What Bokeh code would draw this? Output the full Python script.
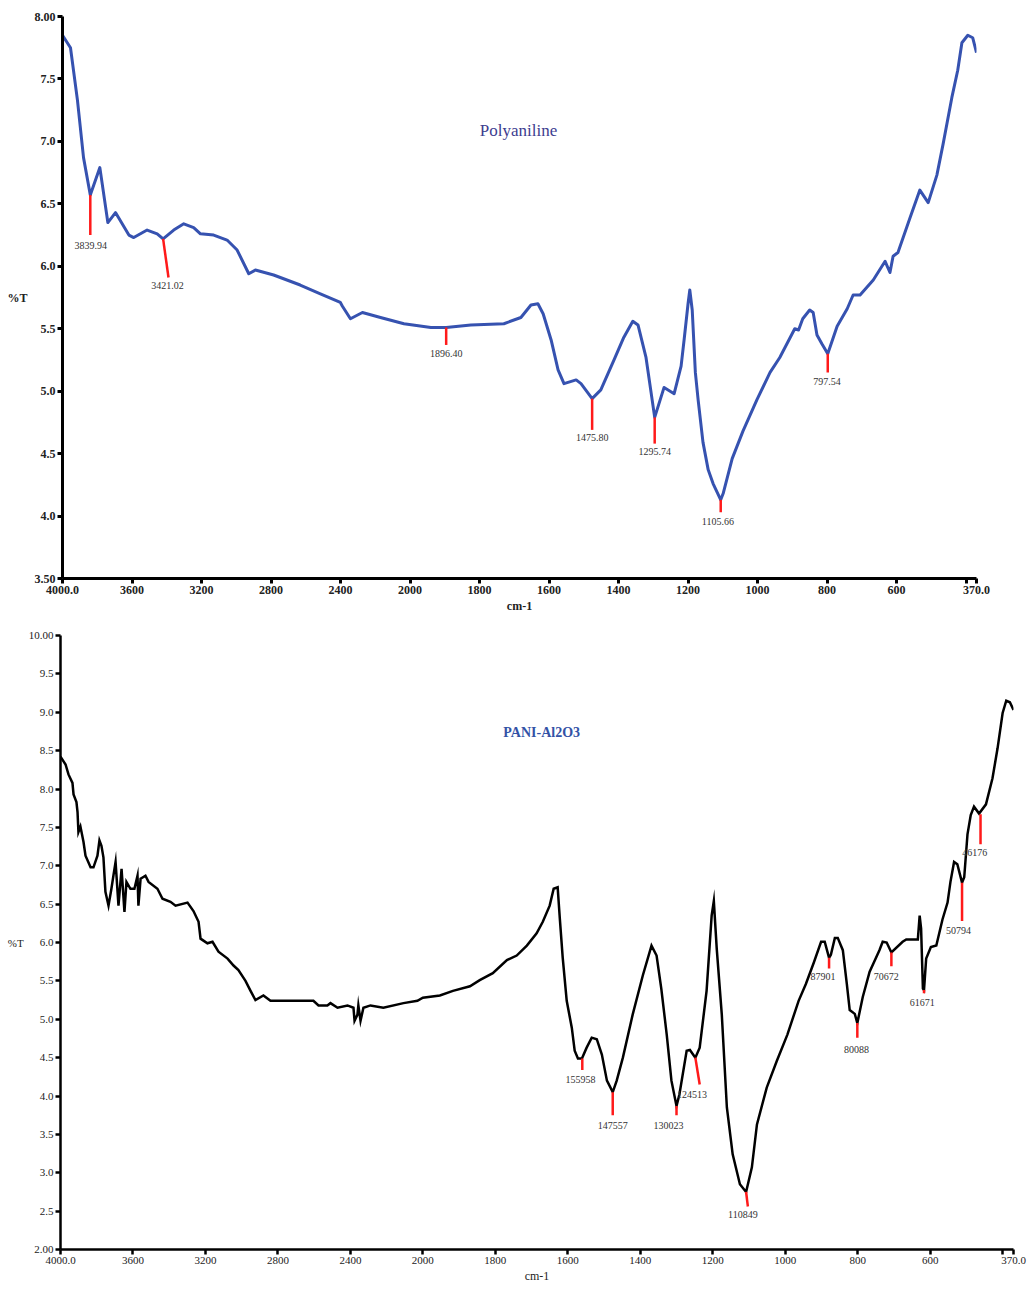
import numpy as np
from bokeh.plotting import figure
from bokeh.models import Range1d, FixedTicker
from bokeh.core.properties import value
from bokeh.embed import file_html
from bokeh.resources import INLINE

# ---------------- data: Polyaniline (top) ----------------
pani_wn = [4000, 3954, 3914, 3879, 3840, 3785, 3739, 3695, 3618, 3590, 3513, 3455, 3421,
           3360, 3302, 3245, 3206, 3130, 3053, 2995, 2928, 2890, 2785, 2632, 2516, 2401,
           2389, 2343, 2274, 2170, 2035, 1940, 1896, 1825, 1730, 1681, 1652, 1632, 1617,
           1594, 1574, 1557, 1522, 1508, 1476, 1451, 1413, 1385, 1359, 1344, 1321, 1296,
           1269, 1240, 1220, 1211, 1200, 1195, 1188, 1179, 1171, 1157, 1142, 1128, 1106,
           1099, 1073, 1042, 1002, 964, 936, 893, 882, 870, 850, 840, 829, 815, 798, 771,
           742, 725, 705, 667, 633, 619, 610, 596, 561, 533, 509, 484, 466, 441, 424, 412,
           395, 381, 370]
pani_t = [7.85, 7.75, 7.33, 6.87, 6.57, 6.79, 6.35, 6.43, 6.25, 6.23, 6.29, 6.26, 6.22,
          6.29, 6.34, 6.31, 6.26, 6.25, 6.21, 6.13, 5.94, 5.97, 5.93, 5.85, 5.78, 5.71,
          5.68, 5.58, 5.63, 5.59, 5.54, 5.51, 5.51, 5.53, 5.54, 5.59, 5.69, 5.70, 5.62,
          5.41, 5.17, 5.06, 5.09, 5.06, 4.94, 5.01, 5.25, 5.43, 5.56, 5.53, 5.27, 4.79,
          5.03, 4.98, 5.20, 5.42, 5.70, 5.81, 5.65, 5.15, 4.93, 4.59, 4.37, 4.26, 4.13,
          4.18, 4.46, 4.68, 4.93, 5.15, 5.27, 5.50, 5.49, 5.58, 5.65, 5.63, 5.45, 5.38,
          5.30, 5.52, 5.66, 5.77, 5.77, 5.89, 6.04, 5.95, 6.08, 6.11, 6.39, 6.61, 6.51,
          6.73, 6.98, 7.35, 7.57, 7.79, 7.85, 7.83, 7.71]

pani_peak_wn = [3840, 3421, 1896, 1476, 1296, 1106, 798]
pani_peak_t = [6.57, 6.22, 5.51, 4.94, 4.79, 4.13, 5.30]
pani_peak_labels = ["3839.94", "3421.02", "1896.40", "1475.80", "1295.74", "1105.66", "797.54"]
# annotation geometry (marker end and label anchor)
pani_mark_wn = [3840, 3390, 1896, 1476, 1296, 1106, 798]
pani_mark_t = [6.25, 5.91, 5.37, 4.69, 4.58, 4.03, 5.15]
pani_lab_wn = [3838, 3396, 1896, 1476, 1296, 1114, 800]
pani_lab_t = [6.17, 5.85, 5.30, 4.63, 4.52, 3.96, 5.08]

# ---------------- data: PANI-Al2O3 (bottom) ----------------
comp_wn = [4000, 3972, 3956, 3934, 3928, 3912, 3906, 3901, 3890, 3873, 3862, 3834, 3818,
           3796, 3785, 3774, 3763, 3752, 3735, 3719, 3708, 3696, 3680, 3663, 3647, 3636,
           3614, 3592, 3575, 3570, 3558, 3531, 3514, 3465, 3437, 3393, 3365, 3299, 3266,
           3238, 3227, 3189, 3161, 3128, 3078, 3045, 3018, 2979, 2951, 2924, 2880, 2841,
           2604, 2576, 2527, 2510, 2471, 2416, 2383, 2377, 2361, 2356, 2344, 2328, 2289,
           2218, 2107, 2030, 2000, 1953, 1917, 1870, 1843, 1807, 1768, 1741, 1713, 1686,
           1669, 1650, 1639, 1628, 1622, 1614, 1603, 1589, 1581, 1572, 1561, 1548, 1534,
           1520, 1506, 1492, 1476, 1465, 1448, 1421, 1393, 1369, 1355, 1342, 1327, 1314,
           1300, 1292, 1272, 1263, 1248, 1236, 1217, 1203, 1197, 1189, 1175, 1161, 1145,
           1125, 1108, 1092, 1078, 1051, 1023, 994, 963, 943, 921, 901, 891, 879, 874, 863,
           855, 841, 830, 822, 808, 801, 786, 767, 740, 731, 720, 707, 676, 666, 634, 629,
           625, 620, 617, 611, 598, 583, 566, 552, 544, 534, 525, 512, 506, 497, 488, 479,
           465, 446, 428, 414, 400, 390, 380, 370]
comp_t = [8.42, 8.32, 8.19, 8.08, 7.93, 7.83, 7.70, 7.44, 7.51, 7.31, 7.13, 6.98, 6.98,
          7.13, 7.33, 7.26, 7.11, 6.66, 6.48, 6.70, 6.87, 7.05, 6.48, 6.96, 6.40, 6.79,
          6.70, 6.70, 6.87, 6.48, 6.83, 6.87, 6.79, 6.70, 6.57, 6.53, 6.48, 6.52, 6.41,
          6.27, 6.05, 5.99, 6.01, 5.88, 5.79, 5.70, 5.64, 5.50, 5.37, 5.25, 5.31, 5.24,
          5.24, 5.18, 5.18, 5.21, 5.15, 5.18, 5.15, 4.98, 5.06, 5.18, 4.98, 5.15, 5.18,
          5.15, 5.21, 5.24, 5.28, 5.31, 5.37, 5.43, 5.51, 5.60, 5.77, 5.83, 5.96, 6.12,
          6.27, 6.48, 6.70, 6.72, 6.31, 5.80, 5.24, 4.89, 4.59, 4.49, 4.49, 4.63, 4.76,
          4.74, 4.54, 4.20, 4.05, 4.20, 4.50, 5.06, 5.57, 5.96, 5.83, 5.40, 4.80, 4.20,
          3.87, 4.02, 4.59, 4.60, 4.50, 4.63, 5.37, 6.35, 6.54, 5.92, 5.06, 3.85, 3.24,
          2.85, 2.75, 3.07, 3.63, 4.11, 4.46, 4.80, 5.24, 5.46, 5.74, 6.01, 6.01, 5.80,
          5.84, 6.06, 6.06, 5.90, 5.46, 5.12, 5.07, 4.95, 5.29, 5.62, 5.90, 6.01, 6.00,
          5.87, 6.01, 6.04, 6.04, 6.35, 6.18, 5.40, 5.38, 5.79, 5.94, 5.96, 6.30, 6.52,
          6.79, 7.05, 7.02, 6.78, 6.85, 7.41, 7.66, 7.77, 7.68, 7.80, 8.14, 8.53, 8.99,
          9.15, 9.13, 9.03]

comp_peak_wn = [1560, 1476, 1300, 1248, 1108, 879, 801, 707, 617, 512, 461]
comp_peak_t = [4.49, 4.05, 3.87, 4.50, 2.75, 5.80, 4.95, 5.87, 5.38, 6.78, 7.67]
comp_peak_labels = ["155958", "147557", "130023", "124513", "110849", "87901", "80088",
                    "70672", "61671", "50794", "46176"]
comp_mark_wn = [1560, 1476, 1300, 1236, 1103, 879, 801, 707, 617, 512, 461]
comp_mark_t = [4.34, 3.75, 3.75, 4.15, 2.56, 5.66, 4.76, 5.69, 5.34, 6.28, 7.28]
comp_lab_wn = [1565, 1476, 1322, 1257, 1117, 896, 803, 721, 622, 522, 477]
comp_lab_t = [4.21, 3.62, 3.62, 4.02, 2.45, 5.56, 4.60, 5.56, 5.22, 6.16, 7.17]

tick_wn = [4000, 3600, 3200, 2800, 2400, 2000, 1800, 1600, 1400, 1200, 1000, 800, 600, 400, 370]
tick_text = ["4000.0", "3600", "3200", "2800", "2400", "2000", "1800", "1600", "1400",
             "1200", "1000", "800", "600", "", "370.0"]

top_yticks = [3.5, 4.0, 4.5, 5.0, 5.5, 6.0, 6.5, 7.0, 7.5, 8.0]
top_ytext = ["3.50", "4.0", "4.5", "5.0", "5.5", "6.0", "6.5", "7.0", "7.5", "8.00"]
bot_yticks = [2.0, 2.5, 3.0, 3.5, 4.0, 4.5, 5.0, 5.5, 6.0, 6.5, 7.0, 7.5, 8.0, 8.5, 9.0, 9.5, 10.0]
bot_ytext = ["2.00", "2.5", "3.0", "3.5", "4.0", "4.5", "5.0", "5.5", "6.0", "6.5", "7.0",
             "7.5", "8.0", "8.5", "9.0", "9.5", "10.00"]


def tx(w):
    """FTIR x-scale: 4000-2000 compressed, 2000-370 expanded (2x)."""
    w = np.asarray(w, dtype=float)
    return np.where(w >= 2000, 4000 - w, 2000 + 2 * (2000 - w))


SERIF = "Liberation Serif"


def make_fig(width, height, borders, yr, yticks, ytext, bold, lab_size, line_w, ylab_standoff):
    l, r, t, b = borders
    p = figure(width=width, height=height, x_range=Range1d(0, float(tx(370))),
               y_range=Range1d(*yr), output_backend="svg", toolbar_location=None,
               min_border_left=l, min_border_right=r, min_border_top=t, min_border_bottom=b)
    p.outline_line_color = None
    p.xgrid.visible = False
    p.ygrid.visible = False
    xt = [float(v) for v in tx(tick_wn)]
    p.xaxis.ticker = FixedTicker(ticks=xt)
    p.xaxis.major_label_overrides = {v: s for v, s in zip(xt, tick_text)}
    p.yaxis.ticker = FixedTicker(ticks=yticks)
    p.yaxis.major_label_overrides = {v: s for v, s in zip(yticks, ytext)}
    for ax in (p.xaxis[0], p.yaxis[0]):
        ax.axis_line_width = line_w
        ax.axis_line_color = "black"
        ax.major_tick_line_width = line_w
        ax.major_tick_out = 5
        ax.major_tick_in = 0
        ax.minor_tick_line_color = None
        ax.major_label_text_font = SERIF
        ax.major_label_text_font_size = lab_size
        ax.major_label_text_font_style = "bold" if bold else "normal"
        ax.major_label_text_color = "#222222"
        ax.major_label_standoff = 2
        ax.axis_label_text_font = SERIF
        ax.axis_label_text_font_size = "12px"
        ax.axis_label_text_font_style = "bold" if bold else "normal"
        ax.axis_label_text_color = "#222222"
    p.xaxis.axis_label = "cm-1"
    p.xaxis.axis_label_standoff = 2
    p.yaxis.axis_label = "%T"
    p.yaxis.axis_label_orientation = "horizontal"
    p.yaxis.axis_label_standoff = ylab_standoff
    return p


# ---------------- top figure ----------------
p1 = make_fig(1035, 622, (62, 59, 16, 44), (3.5, 8.0), top_yticks, top_ytext,
              True, "12px", 3, 4)
p1.line(tx(pani_wn), pani_t, line_color="#3652b0", line_width=3, line_join="round")
p1.segment(tx(pani_peak_wn), pani_peak_t, tx(pani_mark_wn), pani_mark_t,
           line_color="#ff1a1a", line_width=2.5)
p1.text(tx(pani_lab_wn), pani_lab_t, text=pani_peak_labels, text_font=value(SERIF),
        text_font_size="10px", text_align="center", text_baseline="middle",
        text_color="#333333")
p1.text(x=[float(tx(1688))], y=[7.09], text=["Polyaniline"], text_font=value(SERIF),
        text_font_size="17px", text_color="#3d3d8f", text_align="center",
        text_baseline="middle")

# ---------------- bottom figure ----------------
p2 = make_fig(1035, 663, (60, 22, 13, 32), (2.0, 10.0), bot_yticks, bot_ytext,
              False, "11px", 2.5, 2)
p2.yaxis.axis_label_text_font_size = "11px"
p2.line(tx(comp_wn), comp_t, line_color="black", line_width=2.5, line_join="miter")
p2.segment(tx(comp_peak_wn), comp_peak_t, tx(comp_mark_wn), comp_mark_t,
           line_color="#ff1a1a", line_width=2.5)
p2.text(tx(comp_lab_wn), comp_lab_t, text=comp_peak_labels, text_font=value(SERIF),
        text_font_size="10px", text_align="center", text_baseline="middle",
        text_color="#333333")
p2.text(x=[float(tx(1672))], y=[8.74], text=["PANI-Al2O3"], text_font=value(SERIF),
        text_font_size="14px", text_font_style="bold", text_color="#3352a6",
        text_align="center", text_baseline="middle")

open("out.html", "w").write(file_html([p1, p2], INLINE))
